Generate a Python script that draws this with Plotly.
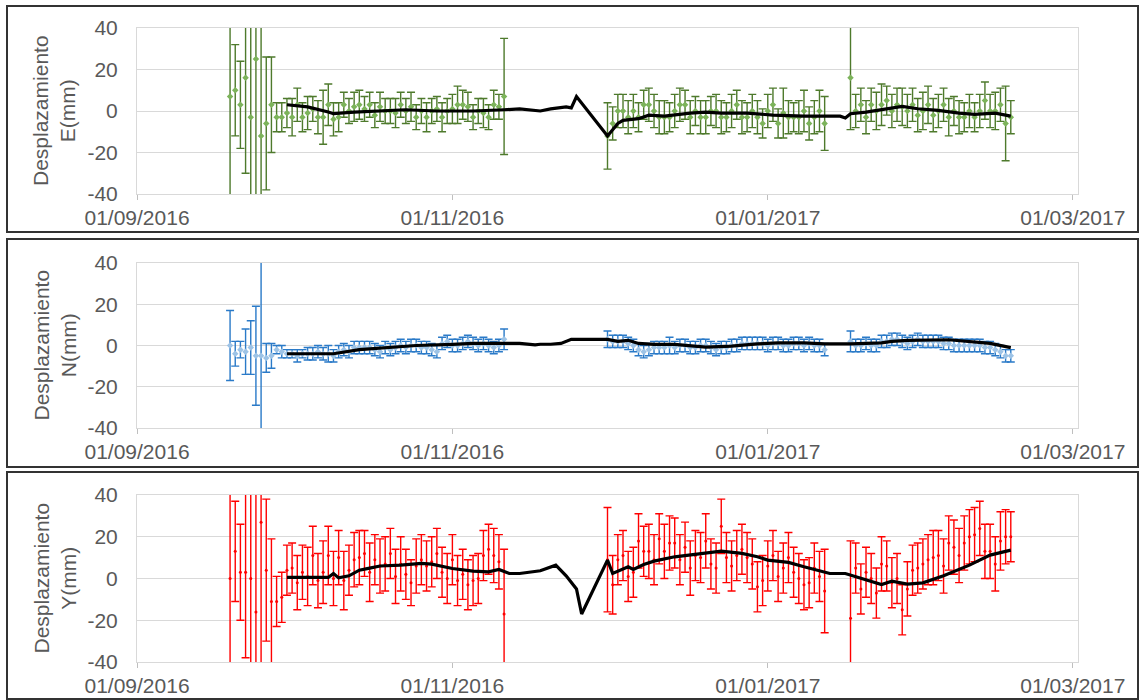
import pandas as pd
import plotly.graph_objects as go

# ---------------- data ----------------
seg_starts = ["2016-09-19", "2016-12-01", "2017-01-17"]
seg_lengths = [54, 43, 32]

# Desplazamiento E (mm)
E_val_a = [7, 10, 3, 16, -3, 25, -12, -6, 3, -3,
           -3, -1, -3, 3, -3, -1, 1, -3, -3, 3,
           -4, -3, 3, 0, 2, 3, 1, 3, -2, 2,
           0, 0, -1, 3, 0, 2, -3, 0, -3, 0,
           1, -3, 0, 1, 3, 3, 2, -3, 0, -1,
           -3, 3, 2, 7]
E_err_a = [50, 22, 21, 46, 50, 70, 55, 32, 23, 7,
           7, 7, 9, 8, 7, 8, 6, 8, 13, 10,
           8, 7, 6, 6, 7, 7, 6, 6, 6, 7,
           6, 6, 7, 6, 6, 7, 6, 6, 7, 6,
           6, 7, 6, 7, 9, 7, 7, 6, 6, 7,
           6, 7, 6, 28]
E_val_b = [-12, -6, 0, 0, -3, 0, -3, 3, 3, 0,
           -3, -3, -3, 0, 3, 3, -3, 0, -3, -3,
           0, 0, -3, -3, 0, 3, -3, -3, 0, -3,
           -6, 0, 3, -6, -1, -3, -3, -3, 0, -6,
           -3, 0, -6]
E_err_b = [16, 8, 8, 8, 8, 8, 7, 7, 8, 8,
           8, 8, 7, 8, 8, 7, 8, 7, 8, 8,
           7, 8, 8, 7, 8, 7, 8, 7, 8, 8,
           7, 8, 8, 7, 12, 8, 7, 8, 10, 8,
           8, 10, 13]
E_val_c = [16, 0, 3, -3, 3, 0, 3, 5, 0, 3,
           2, 0, 3, -2, 0, 3, -2, 0, 3, -3,
           0, -3, -3, 0, -3, 0, 5, 0, 0, 3,
           -6, -3]
E_err_c = [25, 8, 8, 8, 8, 9, 10, 7, 8, 8,
           9, 8, 8, 8, 9, 9, 8, 8, 8, 9,
           7, 8, 7, 8, 7, 8, 9, 8, 9, 8,
           18, 8]

# Desplazamiento N (mm)
N_val_a = [0, -4, -2, -3, -1, -5, -5, -6, -5, -2,
           -3, -4, -4, -5, -4, -4, -4, -3, -4, -4,
           -5, -3, -2, -3, -1, -1, -1, -1, -2, -3,
           -1, -2, -1, 0, -1, 0, 0, -1, -1, -2,
           -3, 1, 2, 0, 0, 1, 2, 1, 0, 1,
           0, -1, 0, 3]
N_err_a = [17, 6, 4, 11, 13, 24, 50, 7, 6, 2,
           3, 2, 2, 3, 2, 3, 3, 3, 3, 4,
           3, 3, 3, 3, 3, 3, 3, 3, 3, 3,
           3, 3, 3, 3, 3, 3, 3, 3, 3, 3,
           3, 3, 3, 3, 3, 3, 3, 3, 3, 3,
           3, 3, 3, 5]
N_val_b = [3, 2, 2, 2, 1, 0, -2, -3, -2, -1,
           -1, -1, 0, -1, 0, 0, -1, -1, 0, 0,
           -1, -2, -1, -1, 0, 0, 1, 1, 1, 1,
           1, 0, 1, 1, 0, 0, 1, 1, 0, 1,
           0, 0, -2]
N_err_b = [4, 3, 3, 3, 3, 3, 3, 3, 3, 3,
           3, 3, 4, 3, 3, 3, 3, 3, 3, 3,
           3, 3, 3, 3, 3, 3, 3, 3, 3, 3,
           3, 3, 3, 3, 3, 3, 3, 3, 3, 3,
           3, 3, 3]
N_val_c = [2, 0, 0, 1, 0, 0, 2, 2, 3, 3,
           2, 1, 2, 3, 2, 2, 2, 2, 1, 1,
           0, 0, 0, 0, 0, 0, -1, -1, -2, -3,
           -5, -5]
N_err_c = [5, 3, 3, 3, 3, 3, 3, 3, 3, 3,
           3, 3, 3, 3, 3, 3, 3, 3, 3, 3,
           3, 3, 3, 3, 3, 3, 3, 3, 3, 3,
           3, 3]

# Desplazamiento Y (mm)
Y_val_a = [0, 13, 3, 3, 0, -16, 27, 4, -11, -11,
           -9, 4, 5, -2, 3, 1, 11, -1, 3, 11,
           0, 10, -1, 4, 9, 10, 12, 3, 9, 6,
           7, 12, 1, 7, 2, -2, 6, 9, 6, 8,
           12, 3, 0, 9, -1, 2, -3, -1, 0, 11,
           14, 11, 8, -17]
Y_err_a = [50, 24, 23, 41, 60, 70, 70, 34, 30, 12,
           12, 12, 12, 13, 13, 14, 14, 13, 15, 14,
           13, 13, 14, 12, 13, 13, 11, 14, 12, 13,
           13, 12, 13, 13, 12, 11, 13, 12, 12, 12,
           12, 12, 12, 12, 12, 12, 12, 12, 12, 12,
           12, 13, 13, 31]
Y_val_b = [9, -3, 9, 11, 1, 3, 18, 13, 13, 9,
           19, 13, 17, 17, 9, 15, 5, 11, 10, 18,
           7, 5, 25, 10, 6, 11, 14, 10, 7, -4,
           -1, 6, 11, 1, 5, 10, 3, 0, -3, -2,
           5, 1, -6]
Y_err_b = [25, 14, 12, 12, 12, 12, 13, 12, 13, 12,
           12, 13, 13, 12, 12, 12, 13, 12, 12, 13,
           12, 12, 13, 12, 12, 12, 12, 12, 12, 12,
           12, 12, 12, 12, 12, 12, 12, 12, 12, 12,
           12, 12, 20]
Y_val_c = [-19, 5, -5, 3, 0, -7, 7, 6, -2, 0,
           -15, -5, 4, 5, 7, 9, 10, 11, 6, 17,
           15, 11, 17, 20, 21, 24, 13, 13, 7, 18,
           20, 20]
Y_err_c = [37, 12, 12, 12, 12, 12, 13, 12, 12, 12,
           12, 13, 12, 12, 12, 12, 13, 12, 13, 13,
           13, 13, 13, 13, 13, 13, 13, 13, 13, 14,
           13, 12]

# smoothed (black) lines
E_line_dates = ["2016-09-30", "2016-10-04", "2016-10-08", "2016-10-09", "2016-10-13",
                "2016-10-19", "2016-10-23", "2016-10-29", "2016-11-05", "2016-11-11",
                "2016-11-14", "2016-11-18", "2016-11-20", "2016-11-23", "2016-11-24",
                "2016-11-25", "2016-12-01", "2016-12-03", "2016-12-04", "2016-12-07",
                "2016-12-09", "2016-12-12", "2016-12-17", "2016-12-20", "2016-12-23",
                "2016-12-28", "2017-01-02", "2017-01-08", "2017-01-15", "2017-01-16",
                "2017-01-17", "2017-01-20", "2017-01-23", "2017-01-27", "2017-01-30",
                "2017-02-03", "2017-02-07", "2017-02-10", "2017-02-14", "2017-02-17"]
E_line_vals = [3, 2, -0.5, -1.3, -0.5,
               0.3, 0.6, 0, 0, 0.6,
               1, 0, 1, 2, 1.5,
               7, -12, -6, -4.5, -3.7,
               -2, -2.5, -1, -0.5, -1,
               -1, -2, -2.5, -2.5, -3.4,
               -1.3, -0.5, 0.6, 2.2, 1.1,
               0.3, -1, -1.6, -1, -2.5]

N_line_dates = ["2016-09-30", "2016-10-09", "2016-10-14", "2016-10-19", "2016-10-25",
                "2016-11-01", "2016-11-05", "2016-11-14", "2016-11-17", "2016-11-18",
                "2016-11-20", "2016-11-22", "2016-11-24", "2016-12-01", "2016-12-03",
                "2016-12-05", "2016-12-07", "2016-12-10", "2016-12-14", "2016-12-20",
                "2016-12-25", "2016-12-30", "2017-01-03", "2017-01-08", "2017-01-12",
                "2017-01-17", "2017-01-23", "2017-01-25", "2017-01-28", "2017-02-05",
                "2017-02-10", "2017-02-13", "2017-02-17"]
N_line_vals = [-4, -4, -2, -1, 0,
               0.5, 1, 1, 0.3, 0.6,
               0.6, 1, 3, 3, 2,
               2.5, 1, 0.5, 0.5, -0.8,
               -0.3, 0.8, 1.3, 1.3, 0.8,
               0.8, 1.3, 2, 2.5, 2.8,
               1.5, 1, -1]

Y_line_dates = ["2016-09-30", "2016-10-08", "2016-10-09", "2016-10-10", "2016-10-12",
                "2016-10-14", "2016-10-16", "2016-10-18", "2016-10-22", "2016-10-26",
                "2016-10-28", "2016-11-01", "2016-11-05", "2016-11-08", "2016-11-10",
                "2016-11-12", "2016-11-14", "2016-11-18", "2016-11-21", "2016-11-23",
                "2016-11-25", "2016-11-26", "2016-12-01", "2016-12-02", "2016-12-05",
                "2016-12-06", "2016-12-08", "2016-12-10", "2016-12-14", "2016-12-19",
                "2016-12-23", "2016-12-27", "2016-12-30", "2017-01-01", "2017-01-05",
                "2017-01-08", "2017-01-12", "2017-01-13", "2017-01-16", "2017-01-18",
                "2017-01-23", "2017-01-25", "2017-01-28", "2017-01-31", "2017-02-04",
                "2017-02-09", "2017-02-13", "2017-02-17"]
Y_line_vals = [0.5, 0.5, 2.4, 0.3, 1.3,
               4, 5, 6, 6.4, 7.2,
               6.9, 4.8, 3.5, 3.2, 4.3,
               2.4, 2.4, 3.7, 6.4, 1.3,
               -5, -17, 8.8, 2.4, 5.6,
               4.3, 6.7, 8.3, 10.4, 12,
               13.1, 12, 10.4, 8.8, 7.7,
               5.6, 3.2, 2.4, 2.4, 0.8,
               -2.9, -1.3, -2.7, -2.1, 1.3,
               6.4, 11.2, 13.6]

y_tick_vals = [-40, -20, 0, 20, 40]
y_tick_text = ["-40", "-20", "0", "20", "40"]
panel_titles = ["Desplazamiento<br>E(mm)", "Desplazamiento<br>N(mm)", "Desplazamiento<br>Y(mm)"]

# ---------------- figure ----------------
W, H = 1139, 700
FONT = "Liberation Sans, Arial, sans-serif"
TXT = "#595959"
GRID = "#d9d9d9"


def seg_dates():
    return [pd.date_range(s, periods=n, freq="D") for s, n in zip(seg_starts, seg_lengths)]


panels = [
    dict(vals=[E_val_a, E_val_b, E_val_c], errs=[E_err_a, E_err_b, E_err_c],
         bar="#4e7a2c", mk="#7cb35a", sym="diamond", msize=5,
         ld=E_line_dates, lv=E_line_vals, ypx=(28, 194), frame=(6, 232)),
    dict(vals=[N_val_a, N_val_b, N_val_c], errs=[N_err_a, N_err_b, N_err_c],
         bar="#2a7ac8", mk="#9dc3e6", sym="diamond", msize=5,
         ld=N_line_dates, lv=N_line_vals, ypx=(263, 428), frame=(239, 467)),
    dict(vals=[Y_val_a, Y_val_b, Y_val_c], errs=[Y_err_a, Y_err_b, Y_err_c],
         bar="#ff0000", mk="#ff0000", sym="circle", msize=3,
         ld=Y_line_dates, lv=Y_line_vals, ypx=(495, 662), frame=(472, 699)),
]

fig = go.Figure()
layout = dict(
    width=W, height=H,
    margin=dict(l=0, r=0, t=0, b=0, autoexpand=False),
    paper_bgcolor="white", plot_bgcolor="white",
    showlegend=False,
    font=dict(family=FONT, color=TXT),
    shapes=[], annotations=[],
)

xdom = [137 / W, 1078 / W]
for i, p in enumerate(panels):
    n = i + 1
    xa = "x" if n == 1 else f"x{n}"
    ya = "y" if n == 1 else f"y{n}"
    for d, v, e in zip(seg_dates(), p["vals"], p["errs"]):
        fig.add_trace(go.Scatter(
            x=d, y=v, mode="markers", xaxis=xa, yaxis=ya,
            marker=dict(color=p["mk"], size=p["msize"], symbol=p["sym"]),
            error_y=dict(type="data", array=e, symmetric=True, color=p["bar"],
                         thickness=1.4, width=4),
            hoverinfo="skip",
        ))
    fig.add_trace(go.Scatter(
        x=pd.to_datetime(p["ld"]), y=p["lv"], mode="lines", xaxis=xa, yaxis=ya,
        line=dict(color="black", width=3.2), hoverinfo="skip",
    ))
    top, bot = p["ypx"]
    ydom = [1 - bot / H, 1 - top / H]
    xkey = "xaxis" if n == 1 else f"xaxis{n}"
    ykey = "yaxis" if n == 1 else f"yaxis{n}"
    layout[xkey] = dict(
        domain=xdom, anchor=ya, type="date", automargin=False,
        range=["2016-09-01", "2017-03-02"],
        tick0="2016-09-01", dtick="M2", tickformat="%d/%m/%Y",
        ticks="outside", ticklen=5, tickcolor="#bfbfbf",
        showgrid=False, zeroline=False,
        showline=True, mirror=True, linecolor=GRID, linewidth=1,
        tickfont=dict(size=21, color=TXT, family=FONT),
        ticklabelstandoff=0,
    )
    layout[ykey] = dict(
        domain=ydom, anchor=xa, range=[-40, 40], automargin=False,
        tickvals=y_tick_vals, ticktext=y_tick_text,
        showgrid=True, gridcolor=GRID, gridwidth=1,
        zeroline=False, showline=True, mirror=True, linecolor=GRID, linewidth=1,
        ticks="", tickfont=dict(size=21, color=TXT, family=FONT),
        ticklabelstandoff=14,
    )
    layout["annotations"].append(dict(
        text=panel_titles[i], xref="paper", yref="paper",
        x=54 / W, y=(ydom[0] + ydom[1]) / 2, xanchor="center", yanchor="middle",
        textangle=-90, showarrow=False,
        font=dict(size=21, color=TXT, family=FONT),
    ))
    f0, f1 = p["frame"]
    layout["shapes"].append(dict(
        type="rect", xref="paper", yref="paper",
        x0=7 / W, x1=1138 / W, y0=1 - f1 / H, y1=1 - f0 / H,
        line=dict(color="#333333", width=2), fillcolor="rgba(0,0,0,0)", layer="below",
    ))

fig.update_layout(**layout)
fig.write_html("out.html")
